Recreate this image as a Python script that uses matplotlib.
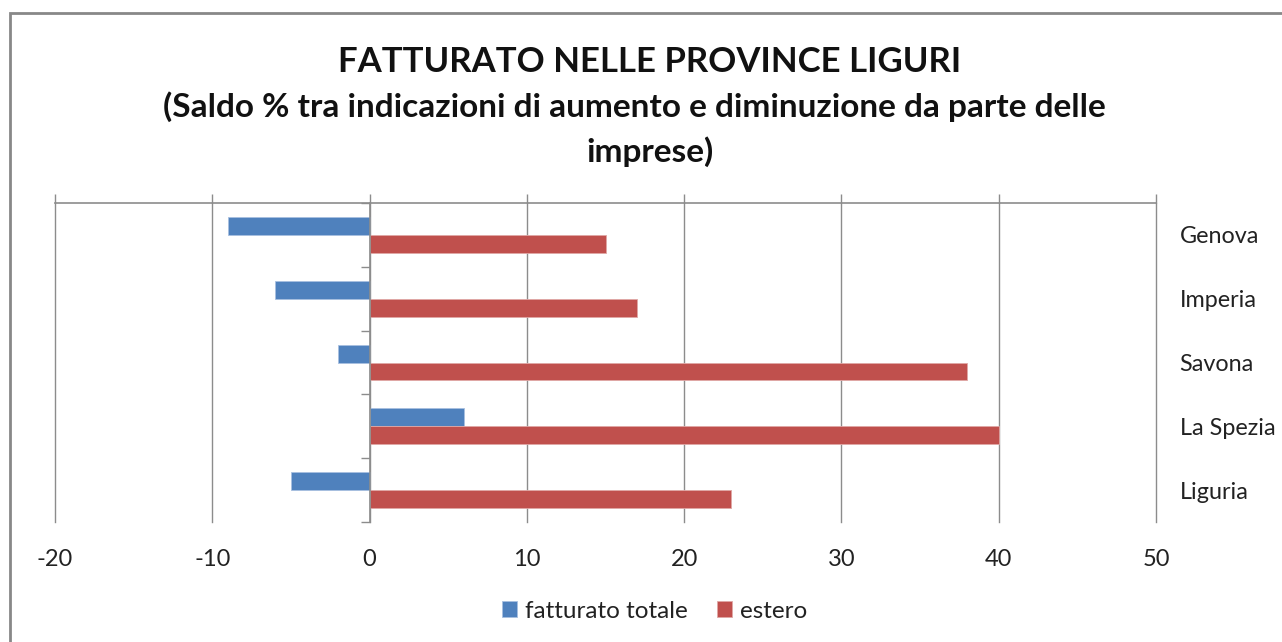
import matplotlib
matplotlib.use("Agg")
import matplotlib.pyplot as plt
import numpy as np
from matplotlib.patches import Rectangle

plt.rcParams['font.family'] = ['Lato', 'DejaVu Sans']

categories = ["Genova", "Imperia", "Savona", "La Spezia", "Liguria"]
fatturato_totale = [-9, -6, -2, 6, -5]
estero = [15, 17, 38, 40, 23]
series_names = ["fatturato totale", "estero"]
colors = ["#4F81BD", "#C0504D"]
xticks = [-20, -10, 0, 10, 20, 30, 40, 50]

W, H = 1282, 642
fig = plt.figure(figsize=(W / 100, H / 100), dpi=100)
ax = fig.add_axes([55 / W, 1 - 522 / H, (1156 - 55) / W, (522 - 203) / H])

y = np.arange(len(categories))
h = 0.28
ax.barh(y - h / 2, fatturato_totale, height=h, color=colors[0],
        edgecolor="#A8C0E0", linewidth=0.6, label=series_names[0], zorder=3)
ax.barh(y + h / 2, estero, height=h, color=colors[1],
        edgecolor="#E0A8A6", linewidth=0.6, label=series_names[1], zorder=3)

ax.set_xlim(-20, 50)
ax.set_ylim(len(categories) - 0.5, -0.5)
ax.set_xticks(xticks)
ax.set_xticklabels([str(v) for v in xticks])

grey = "#8C8C8C"
ax.grid(axis="x", color=grey, linewidth=1.0, zorder=0)
for gl in ax.get_xgridlines():
    gl.set_clip_on(False)

for s in ["bottom", "right"]:
    ax.spines[s].set_visible(False)
ax.spines["top"].set_color(grey)
ax.spines["top"].set_linewidth(1.2)
ax.spines["left"].set_position(("data", 0))
ax.spines["left"].set_color(grey)
ax.spines["left"].set_linewidth(1.2)
ax.spines["left"].set_zorder(4)

ax.tick_params(axis="x", top=True, bottom=False, labeltop=False, labelbottom=True,
               direction="out", length=6.5, width=1.0, color=grey,
               labelsize=17, labelcolor="#222222", pad=13)

ax.set_yticks(np.arange(len(categories) + 1) - 0.5)
ax.set_yticklabels([])
ax.tick_params(axis="y", which="major", left=True, right=False, direction="out",
               length=6.5, width=1.0, color=grey)
ax.set_yticks(y, minor=True)
ax.set_yticklabels(categories, minor=True)
ax.tick_params(axis="y", which="minor", left=False, right=False, labelleft=False,
               labelright=True, length=0, pad=17, labelsize=16.8, labelcolor="#222222")

fig.text(650 / W, 1 - 62 / H, "FATTURATO NELLE PROVINCE LIGURI", ha="center", va="center",
         fontsize=25, fontweight="bold", color="#111111")
fig.text(634 / W, 1 - 107 / H, "(Saldo % tra indicazioni di aumento e diminuzione da parte delle",
         ha="center", va="center", fontsize=24, fontweight="bold", color="#111111")
fig.text(650 / W, 1 - 152 / H, "imprese)", ha="center", va="center",
         fontsize=24, fontweight="bold", color="#111111")

leg = fig.legend(loc="center", bbox_to_anchor=(655 / W, 1 - 611 / H), ncol=2,
                 frameon=False, fontsize=17.5, handlelength=0.6, handleheight=0.6,
                 handletextpad=0.35, columnspacing=1.2, labelcolor="#222222")

fig.add_artist(Rectangle((10 / W, -0.1), 1.2, 1 - 13 / H + 0.1, transform=fig.transFigure,
                         fill=False, edgecolor="#888888", linewidth=2))

fig.savefig("out.png", dpi=100)
